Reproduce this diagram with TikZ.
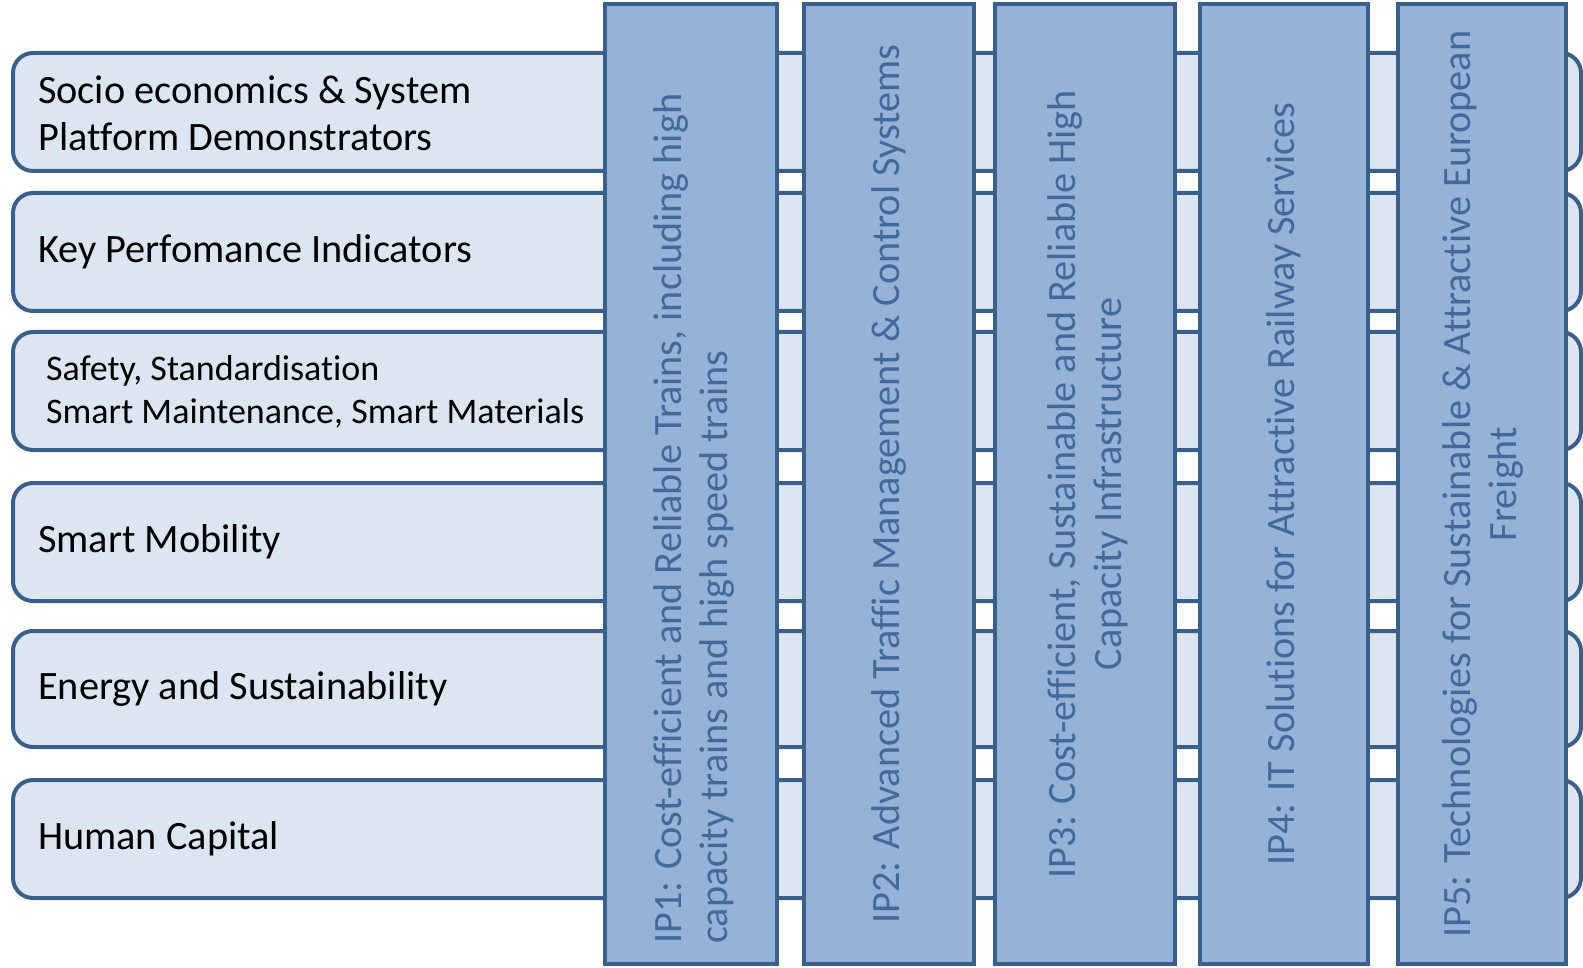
\documentclass[tikz,border=0pt]{standalone}
\usepackage{fontspec}
\setmainfont[Ligatures=NoCommon]{Carlito}
\definecolor{barline}{HTML}{3A5F8B}
\definecolor{barfill}{HTML}{DCE6F2}
\definecolor{ipfill}{HTML}{95B3D7}
\definecolor{iptext}{HTML}{42699C}
\tikzset{
  topic/.style={draw=barline, line width=4pt, fill=barfill, rounded corners=20pt},
  ipbar/.style={draw=barline, line width=4pt, fill=ipfill, inner sep=0pt, minimum height=960pt},
  topiclabel/.style={anchor=west, inner sep=0pt, align=left, font=\fontsize{40.3}{47}\selectfont},
  iplabel/.style={rotate=90, inner sep=0pt, align=center, text=iptext, font=\fontsize{40.2}{46}\selectfont},
}

\begin{document}
\begin{tikzpicture}[x=1pt,y=-1pt]
\useasboundingbox (0,0) rectangle (1583,968);
% horizontal topics
\foreach \t/\b in {53/171,193/311,332/450,483/601,631/747,780/898}
  \draw[topic] (13,\t) rectangle (1581,\b);
\node[topiclabel] (t1) at (38,113) {Socio economics \& System\\Platform Demonstrators};
\node[topiclabel] (t2) at (38,252) {Key Perfomance Indicators};
\node[topiclabel, font=\fontsize{36}{43}\selectfont] (t3) at (46,392) {Safety, Standardisation\\Smart Maintenance, Smart Materials};
\node[topiclabel] (t4) at (38,542) {Smart Mobility};
\node[topiclabel] (t5) at (38,689) {Energy and Sustainability};
\node[topiclabel] (t6) at (38,839) {Human Capital};
% innovation programmes
\node[ipbar, minimum width=172pt] (ip1) at (691,484) {};
\node[ipbar, minimum width=170pt] (ip2) at (889,484) {};
\node[ipbar, minimum width=180pt] (ip3) at (1085,484) {};
\node[ipbar, minimum width=168pt] (ip4) at (1284,484) {};
\node[ipbar, minimum width=168pt] (ip5) at (1482,484) {};
\node[iplabel, align=left, anchor=west] (l1) at (694,944) {IP1: Cost-efficient and Reliable Trains, including high\\capacity trains and high speed trains};
\node[iplabel] (l2) at (ip2.center) {IP2: Advanced Traffic Management \& Control Systems};
\node[iplabel] (l3) at (1088,484) {IP3: Cost-efficient, Sustainable and Reliable High\\Capacity Infrastructure};
\node[iplabel] (l4) at (ip4.center) {IP4: IT Solutions for Attractive Railway Services};
\node[iplabel] (l5) at (1483,484) {IP5: Technologies for Sustainable \& Attractive European\\Freight};
\end{tikzpicture}
\end{document}
